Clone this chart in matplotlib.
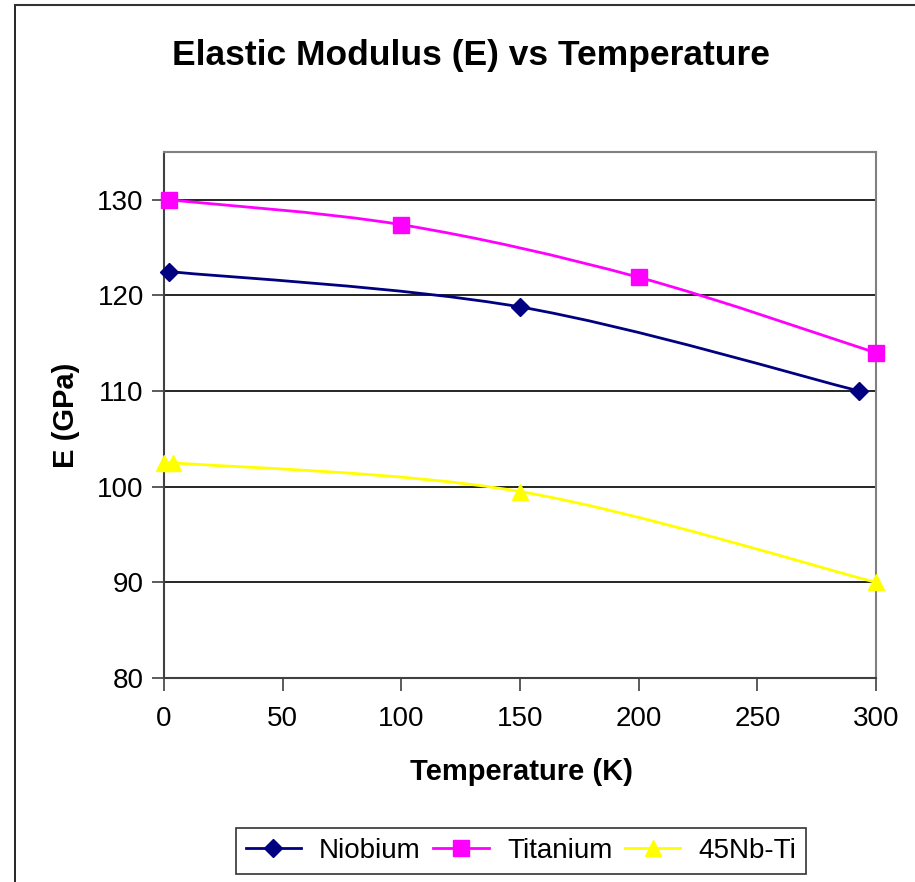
import matplotlib.pyplot as plt
from matplotlib.path import Path
from matplotlib.patches import PathPatch
from matplotlib.lines import Line2D
import numpy as np

plt.rcParams['font.family'] = ['Liberation Sans', 'DejaVu Sans']

# Elastic modulus data (GPa) vs temperature (K)
nb_temp = [2, 150, 293]
nb_E = [122.5, 118.8, 110.0]
ti_temp = [2, 100, 200, 300]
ti_E = [130.0, 127.4, 121.9, 114.0]
nbti_temp = [0, 4, 150, 300]
nbti_E = [102.5, 102.5, 99.5, 90.0]

series = [
    ('Niobium', nb_temp, nb_E, '#000080', 'D', 9),
    ('Titanium', ti_temp, ti_E, '#FF00FF', 's', 11),
    ('45Nb-Ti', nbti_temp, nbti_E, '#FFFF00', '^', 11),
]


def smooth_path(x, y):
    # spreadsheet-style smoothed line: cubic Bezier segments through the points
    p = np.column_stack([x, y]).astype(float)
    n = len(p)
    verts = [p[0]]
    codes = [Path.MOVETO]
    for i in range(n - 1):
        p0 = p[i - 1] if i > 0 else p[i]
        p3 = p[i + 2] if i + 2 < n else p[i + 1]
        c1 = p[i] + (p[i + 1] - p0) / 6.0
        c2 = p[i + 1] - (p3 - p[i]) / 6.0
        verts += [c1, c2, p[i + 1]]
        codes += [Path.CURVE4] * 3
    return Path(verts, codes)


W, H = 915, 882
fig = plt.figure(figsize=(W / 100, H / 100), dpi=100)
ax = fig.add_axes([164 / W, 1 - 678 / H, (876 - 164) / W, (678 - 152) / H])

handles = []
for name, xs, ys, col, mk, ms in series:
    ax.add_patch(PathPatch(smooth_path(xs, ys), fill=False, edgecolor=col, lw=2, zorder=3))
    ax.plot(xs, ys, linestyle='none', marker=mk, markersize=ms, color=col,
            markeredgecolor=col, zorder=4, clip_on=False)
    handles.append(Line2D([], [], color=col, lw=2, marker=mk, markersize=ms,
                          markeredgecolor=col))

ax.set_xlim(0, 300)
ax.set_ylim(80, 135)
ax.set_xticks(np.arange(0, 301, 50))
ax.set_yticks(np.arange(80, 131, 10))
ax.yaxis.grid(True, color='black', lw=1.2)
ax.set_axisbelow(True)
for side in ['top', 'right']:
    ax.spines[side].set_color('#808080')
    ax.spines[side].set_linewidth(1.5)
for side in ['left', 'bottom']:
    ax.spines[side].set_color('#404040')
    ax.spines[side].set_linewidth(1.5)
ax.tick_params(labelsize=20, length=9, width=1.2, color='#404040')
ax.tick_params(axis='y', pad=5.5)
ax.tick_params(axis='x', pad=11.5)

fig.text(521 / W, 1 - 772 / H, 'Temperature (K)', ha='center', va='center',
         fontsize=21, fontweight='bold')
fig.text(66 / W, 1 - 415 / H, 'E (GPa)', ha='center', va='center', rotation=90,
         fontsize=21, fontweight='bold')
fig.text(471 / W, 1 - 55 / H, 'Elastic Modulus (E) vs Temperature',
         ha='center', va='center', fontsize=25.5, fontweight='bold')

leg = fig.legend(handles, [s[0] for s in series], loc='center',
                 bbox_to_anchor=(521 / W, 1 - 851 / H), ncol=3, fontsize=20,
                 frameon=True, fancybox=False, edgecolor='black',
                 handlelength=2.0, columnspacing=0.45, handletextpad=0.65,
                 borderpad=0.35, borderaxespad=0)
leg.get_frame().set_linewidth(1.2)

# outer chart border
fig.add_artist(Line2D([15.5 / W, 15.5 / W], [0, 1 - 5 / H], color='black', lw=1.2))
fig.add_artist(Line2D([15.5 / W, 1], [1 - 5 / H, 1 - 5 / H], color='#333333', lw=1.5))

fig.savefig('out.png', dpi=100)
